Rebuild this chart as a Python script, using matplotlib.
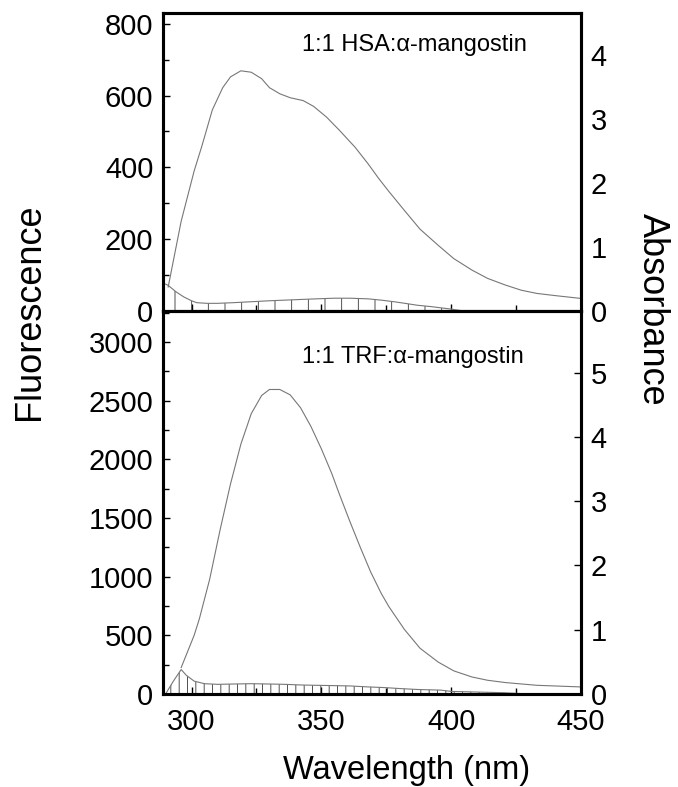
import matplotlib
matplotlib.use("Agg")
import matplotlib.pyplot as plt
from matplotlib.ticker import MultipleLocator

plt.rcParams['font.family'] = ['Liberation Sans', 'DejaVu Sans']
plt.rcParams['hatch.linewidth'] = 0.6

# HSA panel (top)
hsa_wl = [291, 296, 301, 304, 308, 312, 315, 319, 323, 327, 330, 334, 338, 343, 347, 352,
          357, 363, 368, 372, 376, 382, 388, 395, 401, 408, 414, 421, 427, 433, 440, 450]
hsa_fluo = [67, 250, 390, 460, 560, 622, 652, 669, 665, 647, 622, 605, 594, 586, 570, 540,
            503, 456, 410, 370, 333, 280, 228, 183, 146, 114, 91, 72, 58, 49, 43, 35]
hsa_abs_wl = [290, 291, 294, 297, 300, 302, 306, 310, 316, 323, 330, 336, 342, 348, 355,
              361, 368, 373, 378, 383, 387, 392, 396, 400, 405]
hsa_abs = [0.42, 0.40, 0.30, 0.22, 0.16, 0.13, 0.12, 0.12, 0.13, 0.145, 0.16, 0.17, 0.18,
           0.19, 0.2, 0.2, 0.19, 0.17, 0.145, 0.115, 0.09, 0.07, 0.05, 0.03, 0.0]

# TRF panel (bottom)
trf_wl = [296, 301, 303, 307, 311, 315, 319, 323, 327, 330, 334, 338, 342, 346, 350, 354,
          357, 361, 365, 369, 373, 376, 382, 388, 395, 401, 408, 414, 421, 433, 450]
trf_fluo = [225, 500, 640, 980, 1400, 1790, 2130, 2390, 2545, 2596, 2596, 2550, 2440, 2280,
            2090, 1880, 1700, 1470, 1250, 1040, 860, 745, 550, 390, 272, 197, 145, 117, 97, 74, 60]
trf_abs_wl = [290, 293, 296, 298, 301, 305, 310, 316, 323, 330, 336, 342, 348, 355, 361,
              368, 374, 380, 387, 396, 400, 410, 420, 430]
trf_abs = [0.0, 0.2, 0.38, 0.29, 0.2, 0.16, 0.15, 0.155, 0.16, 0.155, 0.15, 0.14, 0.135,
           0.13, 0.125, 0.11, 0.1, 0.085, 0.07, 0.06, 0.04, 0.03, 0.02, 0.0]

line_col = '#777777'
fs_tick = 21

fig = plt.figure(figsize=(6.78, 7.87), dpi=100)
ax1 = fig.add_axes([0.2404, 0.6048, 0.6165, 0.3787])
ax2 = fig.add_axes([0.2404, 0.1182, 0.6165, 0.4866])


def style(ax, ymax, major, minor, amax, right_ticks):
    ax.set_xlim(289, 450)
    ax.set_ylim(0, ymax)
    ax.yaxis.set_major_locator(MultipleLocator(major))
    ax.yaxis.set_minor_locator(MultipleLocator(minor))
    ax.xaxis.set_major_locator(MultipleLocator(50))
    ax.xaxis.set_minor_locator(MultipleLocator(25))
    ax.tick_params(which='both', direction='in', labelsize=fs_tick, pad=7)
    ax.tick_params(axis='x', pad=10)
    ax.tick_params(which='major', length=5, width=1)
    ax.tick_params(which='minor', length=4, width=1)
    for s in ax.spines.values():
        s.set_linewidth(2.2)
    tw = ax.twinx()
    tw.set_ylim(0, amax)
    tw.yaxis.set_major_locator(MultipleLocator(1))
    tw.tick_params(direction='in', labelsize=fs_tick, pad=7,
                   length=5 if right_ticks else 0, width=1)
    for s in tw.spines.values():
        s.set_linewidth(2.2)
    return tw


tw1 = style(ax1, 830, 200, 100, 4.65, False)
tw2 = style(ax2, 3265, 500, 250, 5.96, True)
ax1.tick_params(axis='x', labelbottom=False)

ax1.plot(hsa_wl, hsa_fluo, color=line_col, lw=0.8)
tw1.fill_between(hsa_abs_wl, 0, hsa_abs, facecolor='none', edgecolor='#333333',
                 hatch='|', linewidth=0)
tw1.plot(hsa_abs_wl, hsa_abs, color=line_col, lw=0.8)

ax2.plot(trf_wl, trf_fluo, color=line_col, lw=0.8)
tw2.fill_between(trf_abs_wl, 0, trf_abs, facecolor='none', edgecolor='#333333',
                 hatch='||', linewidth=0)
tw2.plot(trf_abs_wl, trf_abs, color=line_col, lw=0.8)

ax1.text(0.3325, 0.893, '1:1 HSA:α-mangostin', transform=ax1.transAxes,
         fontsize=17, va='center', ha='left')
ax2.text(0.3325, 0.88, '1:1 TRF:α-mangostin', transform=ax2.transAxes,
         fontsize=17, va='center', ha='left')

fig.text(0.044, 0.604, 'Fluorescence', rotation=90, fontsize=26, ha='center', va='center')
fig.text(0.962, 0.607, 'Absorbance', rotation=270, fontsize=26, ha='center', va='center')
fig.text(0.600, 0.021, 'Wavelength (nm)', fontsize=23.5, ha='center', va='center')

fig.savefig('out.png', dpi=100)
